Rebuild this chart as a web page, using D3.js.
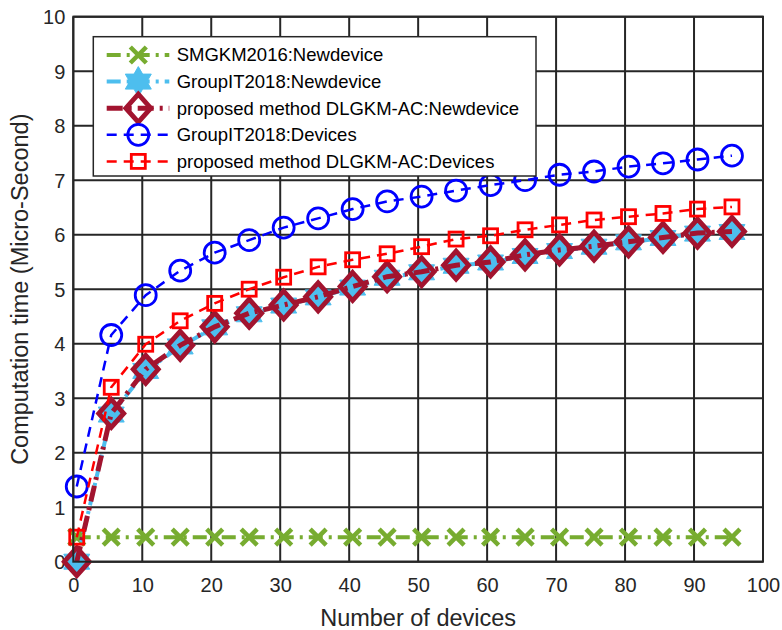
<!DOCTYPE html>
<html>
<head>
<meta charset="utf-8">
<script src="https://cdn.jsdelivr.net/npm/d3@7"></script>
<style>
  body { margin: 0; background: #fff; }
  svg { display: block; font-family: "Liberation Sans", Arial, sans-serif; }
</style>
</head>
<body>
<svg id="chart"></svg>
<script>
// devices on the x axis (same for every series)
const devices = [0.5, 5.5, 10.5, 15.5, 20.5, 25.5, 30.5, 35.5, 40.5, 45.5,
  50.5, 55.5, 60.5, 65.5, 70.5, 75.5, 80.5, 85.5, 90.5, 95.5];

const smgkmNew = [0.45, 0.45, 0.45, 0.45, 0.45, 0.45, 0.45, 0.45, 0.45, 0.45,
  0.45, 0.45, 0.45, 0.45, 0.45, 0.45, 0.45, 0.45, 0.45, 0.45];
const groupNew = [0.0, 2.70, 3.50, 3.95, 4.30, 4.54, 4.70, 4.85, 5.03, 5.21,
  5.31, 5.43, 5.49, 5.61, 5.70, 5.78, 5.86, 5.94, 6.02, 6.05];
const proposedNew = [0.0, 2.72, 3.53, 3.97, 4.31, 4.56, 4.71, 4.86, 5.05, 5.23,
  5.32, 5.44, 5.50, 5.63, 5.72, 5.79, 5.87, 5.95, 6.03, 6.06];
const groupDev = [1.38, 4.16, 4.89, 5.34, 5.67, 5.90, 6.13, 6.30, 6.47, 6.61,
  6.70, 6.81, 6.91, 7.00, 7.10, 7.16, 7.25, 7.31, 7.38, 7.45];
const proposedDev = [0.45, 3.20, 3.99, 4.42, 4.74, 5.00, 5.22, 5.41, 5.54, 5.65,
  5.78, 5.92, 5.98, 6.09, 6.18, 6.27, 6.33, 6.39, 6.47, 6.51];

const seriesNames = [
  "SMGKM2016:Newdevice",
  "GroupIT2018:Newdevice",
  "proposed method DLGKM-AC:Newdevice",
  "GroupIT2018:Devices",
  "proposed method DLGKM-AC:Devices"
];
const xTicks = [0, 10, 20, 30, 40, 50, 60, 70, 80, 90, 100];
const yTicks = [0, 1, 2, 3, 4, 5, 6, 7, 8, 9, 10];

const styles = [
  { color: "#77AC30", width: 4, dash: "14,6,3,6", marker: "x" },
  { color: "#4DBEEE", width: 4, dash: "14,6,3,6", marker: "hexagram" },
  { color: "#A2142F", width: 5, dash: "16,6,3,6", marker: "diamond" },
  { color: "#0000FF", width: 2.5, dash: "10,7", marker: "circle" },
  { color: "#FF0000", width: 2.5, dash: "10,7", marker: "square" }
];

const series = [smgkmNew, groupNew, proposedNew, groupDev, proposedDev].map((vals, i) => ({
  name: seriesNames[i],
  style: styles[i],
  points: vals.map((v, j) => ({ x: devices[j], y: v }))
}));

const width = 782, height = 630;
const margin = { top: 16.7, right: 19, bottom: 68.3, left: 73.3 };
const ink = "#262626";

const svg = d3.select("#chart").attr("width", width).attr("height", height);

const x = d3.scaleLinear().domain([0, 100]).range([margin.left, width - margin.right]);
const y = d3.scaleLinear().domain([0, 10]).range([height - margin.bottom, margin.top]);

// grid lines
svg.append("g")
  .selectAll("line")
  .data(xTicks)
  .join("line")
  .attr("x1", d => x(d)).attr("x2", d => x(d))
  .attr("y1", y(0)).attr("y2", y(10))
  .attr("stroke", ink).attr("stroke-width", 2);

svg.append("g")
  .selectAll("line")
  .data(yTicks)
  .join("line")
  .attr("x1", x(0)).attr("x2", x(100))
  .attr("y1", d => y(d)).attr("y2", d => y(d))
  .attr("stroke", ink).attr("stroke-width", 2);

// axes (labels only, grid does the lines)
const xAxis = svg.append("g")
  .attr("transform", `translate(0,${y(0)})`)
  .call(d3.axisBottom(x).tickValues(xTicks).tickSize(0).tickFormat(d3.format("d")));
xAxis.select(".domain").remove();
xAxis.selectAll("text")
  .attr("y", 30).attr("dy", 0)
  .attr("font-size", 20).attr("fill", ink)
  .style("font-family", "Liberation Sans, Arial, sans-serif");

const yAxis = svg.append("g")
  .attr("transform", `translate(${x(0)},0)`)
  .call(d3.axisLeft(y).tickValues(yTicks).tickSize(0).tickFormat(d3.format("d")));
yAxis.select(".domain").remove();
yAxis.selectAll("text")
  .attr("x", -8).attr("dy", "0.36em")
  .attr("font-size", 20).attr("fill", ink)
  .style("font-family", "Liberation Sans, Arial, sans-serif");

// axis titles
svg.append("text")
  .attr("x", (x(0) + x(100)) / 2).attr("y", 626)
  .attr("text-anchor", "middle")
  .attr("font-size", 23.5).attr("fill", ink)
  .text("Number of devices");

svg.append("text")
  .attr("transform", `translate(28,${(y(0) + y(10)) / 2}) rotate(-90)`)
  .attr("text-anchor", "middle")
  .attr("font-size", 23.5).attr("fill", ink)
  .text("Computation time (Micro-Second)");

// marker drawing
function hexagramPath(r) {
  const pts = [];
  for (let k = 0; k < 12; k++) {
    const a = -Math.PI / 2 + k * Math.PI / 6;
    const rr = k % 2 === 0 ? r : r / Math.sqrt(3);
    pts.push([rr * Math.cos(a), rr * Math.sin(a)]);
  }
  return "M" + pts.map(p => p.join(",")).join("L") + "Z";
}

function drawMarker(g, type, color) {
  if (type === "x") {
    g.append("path")
      .attr("d", "M-8,-8L8,8M-8,8L8,-8")
      .attr("stroke", color).attr("stroke-width", 4.5).attr("fill", "none");
  } else if (type === "hexagram") {
    g.append("path")
      .attr("d", hexagramPath(15))
      .attr("fill", color).attr("stroke", color).attr("stroke-width", 1);
  } else if (type === "diamond") {
    g.append("path")
      .attr("d", "M0,-14L12.5,0L0,14L-12.5,0Z")
      .attr("fill", "none").attr("stroke", color).attr("stroke-width", 4.8);
  } else if (type === "circle") {
    g.append("circle").attr("r", 10.5)
      .attr("fill", "none").attr("stroke", color).attr("stroke-width", 2.8);
  } else if (type === "square") {
    g.append("rect").attr("x", -7).attr("y", -7).attr("width", 14).attr("height", 14)
      .attr("fill", "none").attr("stroke", color).attr("stroke-width", 2.8);
  }
}

const line = d3.line().x(d => x(d.x)).y(d => y(d.y));

series.forEach(s => {
  const g = svg.append("g");
  g.append("path")
    .datum(s.points)
    .attr("d", line)
    .attr("fill", "none")
    .attr("stroke", s.style.color)
    .attr("stroke-width", s.style.width)
    .attr("stroke-dasharray", s.style.dash);
  g.selectAll("g")
    .data(s.points)
    .join("g")
    .attr("transform", d => `translate(${x(d.x)},${y(d.y)})`)
    .each(function () { drawMarker(d3.select(this), s.style.marker, s.style.color); });
});

// axes box
svg.append("rect")
  .attr("x", x(0)).attr("y", y(10))
  .attr("width", x(100) - x(0)).attr("height", y(0) - y(10))
  .attr("fill", "none").attr("stroke", ink).attr("stroke-width", 2);

// legend
const legend = svg.append("g");
legend.append("rect")
  .attr("x", 93.3).attr("y", 36.7)
  .attr("width", 442.7).attr("height", 139.3)
  .attr("fill", "#fff").attr("stroke", ink).attr("stroke-width", 1.5);

series.forEach((s, i) => {
  const ry = 55 + i * 26.6;
  const row = legend.append("g");
  row.append("line")
    .attr("x1", 106.7).attr("x2", 169.3)
    .attr("y1", ry).attr("y2", ry)
    .attr("stroke", s.style.color)
    .attr("stroke-width", s.style.width)
    .attr("stroke-dasharray", s.style.dash);
  drawMarker(row.append("g").attr("transform", `translate(138.3,${ry})`), s.style.marker, s.style.color);
  row.append("text")
    .attr("x", 176.7).attr("y", ry).attr("dy", "0.35em")
    .attr("font-size", 18.5).attr("fill", "#000")
    .text(s.name);
});
</script>
</body>
</html>
